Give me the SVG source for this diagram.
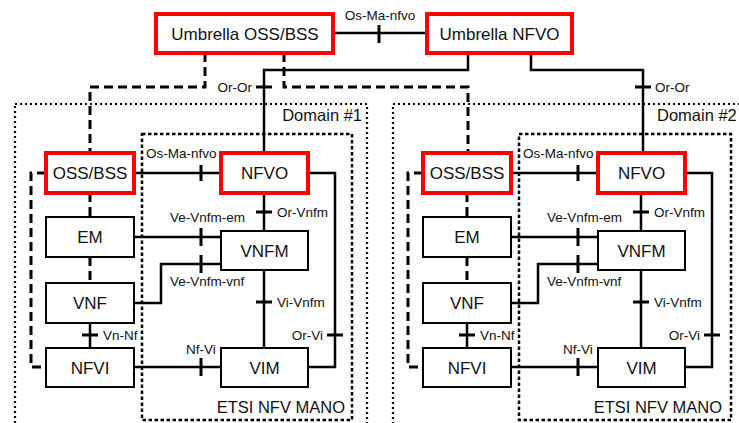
<svg xmlns="http://www.w3.org/2000/svg" width="739" height="423" viewBox="0 0 739 423">
<style>
.bg{fill:#fff}
.box{fill:#fff;stroke:#000;stroke-width:2}
.red{fill:#fff;stroke:#ff0000;stroke-width:4}
.ln{fill:none;stroke:#000;stroke-width:2.5}
.tk{fill:none;stroke:#000;stroke-width:3}
.dash{fill:none;stroke:#000;stroke-width:3;stroke-dasharray:9 5}
.dom{fill:none;stroke:#000;stroke-width:2.2;stroke-dasharray:2 3}
.mano{fill:none;stroke:#000;stroke-width:2.5;stroke-dasharray:3.5 2.5}
text{font-family:"Liberation Sans",Arial,sans-serif;fill:#111}
.nt{font-size:17px;text-anchor:middle}
.lb{font-size:13.5px}
.big{font-size:16.5px}
</style>
<rect class="bg" x="0" y="0" width="739" height="423"/>

<g id="areas">
  <rect class="dom" x="15" y="104" width="352" height="330"/>
  <rect class="dom" x="393" y="104" width="360" height="330"/>
  <rect class="mano" x="142" y="134" width="210" height="286"/>
  <rect class="mano" x="519" y="134" width="212" height="286"/>
  <text class="big" x="362" y="121" text-anchor="end">Domain #1</text>
  <text class="big" x="657" y="121">Domain #2</text>
  <text class="big" x="345" y="413" text-anchor="end">ETSI NFV MANO</text>
  <text class="big" x="722" y="413" text-anchor="end">ETSI NFV MANO</text>
</g>

<g id="connectors">
  <path class="ln" d="M333 33H427"/><path class="tk" d="M379 25V43"/>
  <text class="lb" x="380" y="20" text-anchor="middle">Os-Ma-nfvo</text>
  <path class="ln" d="M468 53V70H264V153"/><path class="tk" d="M256 87H272"/>
  <text class="lb" x="252" y="91.5" text-anchor="end">Or-Or</text>
  <path class="ln" d="M531 53V70H643V153"/><path class="tk" d="M635 87H651"/>
  <text class="lb" x="655" y="91.5">Or-Or</text>
  <path class="dash" d="M205 53V87H90V153"/>
  <path class="dash" d="M284 53V87H468V153"/>

  <g id="conn-d1">
    <path class="ln" d="M134 173H221"/><path class="tk" d="M201 165V181"/>
    <text class="lb" x="146" y="158">Os-Ma-nfvo</text>
    <path class="ln" d="M308 173H335V367H308"/><path class="tk" d="M327 335H343"/>
    <text class="lb" x="323" y="339.5" text-anchor="end">Or-Vi</text>
    <path class="ln" d="M264 193V231"/><path class="tk" d="M256 212H272"/>
    <text class="lb" x="277" y="216.5">Or-Vnfm</text>
    <path class="ln" d="M134 237H221"/><path class="tk" d="M201 228V246"/>
    <text class="lb" x="170" y="222">Ve-Vnfm-em</text>
    <path class="ln" d="M134 303H161V264H221"/><path class="tk" d="M201 255V273"/>
    <text class="lb" x="170" y="286">Ve-Vnfm-vnf</text>
    <path class="ln" d="M264 270V348"/><path class="tk" d="M256 302H272"/>
    <text class="lb" x="277" y="306.5">Vi-Vnfm</text>
    <path class="ln" d="M90 323V348"/><path class="tk" d="M82 335H98"/>
    <text class="lb" x="103" y="339.5">Vn-Nf</text>
    <path class="ln" d="M134 367H221"/><path class="tk" d="M201 358V376"/>
    <text class="lb" x="201" y="354" text-anchor="middle">Nf-Vi</text>
    <path class="dash" d="M90 193V217"/>
    <path class="dash" d="M90 257V283"/>
    <path class="dash" d="M46 173H31V367H46"/>
  </g>

  <g id="conn-d2" transform="translate(377 0)">
    <path class="ln" d="M134 173H221"/><path class="tk" d="M201 165V181"/>
    <text class="lb" x="146" y="158">Os-Ma-nfvo</text>
    <path class="ln" d="M308 173H335V367H308"/><path class="tk" d="M327 335H343"/>
    <text class="lb" x="323" y="339.5" text-anchor="end">Or-Vi</text>
    <path class="ln" d="M264 193V231"/><path class="tk" d="M256 212H272"/>
    <text class="lb" x="277" y="216.5">Or-Vnfm</text>
    <path class="ln" d="M134 237H221"/><path class="tk" d="M201 228V246"/>
    <text class="lb" x="170" y="222">Ve-Vnfm-em</text>
    <path class="ln" d="M134 303H161V264H221"/><path class="tk" d="M201 255V273"/>
    <text class="lb" x="170" y="286">Ve-Vnfm-vnf</text>
    <path class="ln" d="M264 270V348"/><path class="tk" d="M256 302H272"/>
    <text class="lb" x="277" y="306.5">Vi-Vnfm</text>
    <path class="ln" d="M90 323V348"/><path class="tk" d="M82 335H98"/>
    <text class="lb" x="103" y="339.5">Vn-Nf</text>
    <path class="ln" d="M134 367H221"/><path class="tk" d="M201 358V376"/>
    <text class="lb" x="201" y="354" text-anchor="middle">Nf-Vi</text>
    <path class="dash" d="M90 193V217"/>
    <path class="dash" d="M90 257V283"/>
    <path class="dash" d="M46 173H31V367H46"/>
  </g>
</g>

<g id="umbrella-oss"><rect class="red" x="156" y="14" width="177" height="39"/><text class="nt" x="245" y="40">Umbrella OSS/BSS</text></g>
<g id="umbrella-nfvo"><rect class="red" x="427" y="14" width="145" height="39"/><text class="nt" x="499.5" y="40">Umbrella NFVO</text></g>

<g id="oss1"><rect class="red" x="46" y="153" width="88" height="40"/><text class="nt" x="90" y="179">OSS/BSS</text></g>
<g id="nfvo1"><rect class="red" x="221" y="153" width="87" height="40"/><text class="nt" x="264.5" y="179">NFVO</text></g>
<g id="em1"><rect class="box" x="46" y="217" width="88" height="40"/><text class="nt" x="90" y="243">EM</text></g>
<g id="vnfm1"><rect class="box" x="221" y="231" width="87" height="39"/><text class="nt" x="264.5" y="256.5">VNFM</text></g>
<g id="vnf1"><rect class="box" x="46" y="283" width="88" height="40"/><text class="nt" x="90" y="309">VNF</text></g>
<g id="nfvi1"><rect class="box" x="46" y="348" width="88" height="39"/><text class="nt" x="90" y="373.5">NFVI</text></g>
<g id="vim1"><rect class="box" x="221" y="348" width="87" height="39"/><text class="nt" x="264.5" y="373.5">VIM</text></g>

<g id="oss2"><rect class="red" x="423" y="153" width="88" height="40"/><text class="nt" x="467" y="179">OSS/BSS</text></g>
<g id="nfvo2"><rect class="red" x="598" y="153" width="87" height="40"/><text class="nt" x="641.5" y="179">NFVO</text></g>
<g id="em2"><rect class="box" x="423" y="217" width="88" height="40"/><text class="nt" x="467" y="243">EM</text></g>
<g id="vnfm2"><rect class="box" x="598" y="231" width="87" height="39"/><text class="nt" x="641.5" y="256.5">VNFM</text></g>
<g id="vnf2"><rect class="box" x="423" y="283" width="88" height="40"/><text class="nt" x="467" y="309">VNF</text></g>
<g id="nfvi2"><rect class="box" x="423" y="348" width="88" height="39"/><text class="nt" x="467" y="373.5">NFVI</text></g>
<g id="vim2"><rect class="box" x="598" y="348" width="87" height="39"/><text class="nt" x="641.5" y="373.5">VIM</text></g>
</svg>
